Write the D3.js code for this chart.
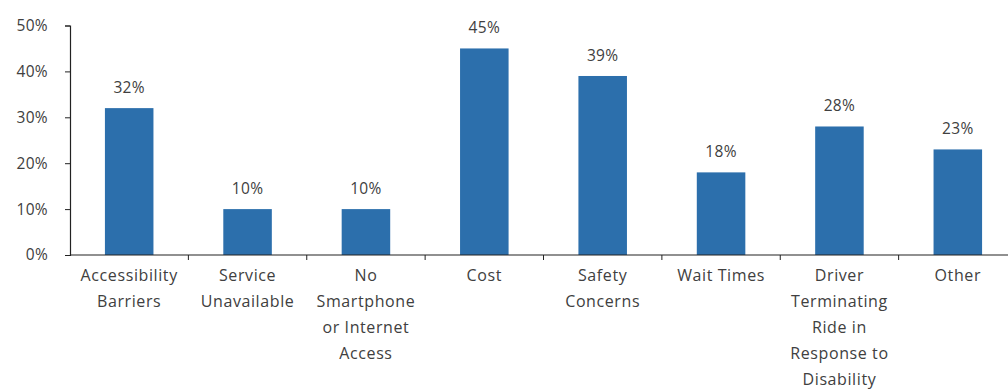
<!DOCTYPE html>
<html>
<head>
<meta charset="utf-8">
<script src="https://cdn.jsdelivr.net/npm/d3@7"></script>
<style>
  html, body { margin: 0; padding: 0; background: #fff; }
  svg { display: block; }
  text { font-family: "Open Sans", Lato, sans-serif; fill: #404040; }
</style>
</head>
<body>
<svg id="chart" width="1008" height="392"></svg>
<script>
// Reasons reported for ride-hailing difficulties (share of respondents)
const categories = [
  ["Accessibility", "Barriers"],
  ["Service", "Unavailable"],
  ["No", "Smartphone", "or Internet", "Access"],
  ["Cost"],
  ["Safety", "Concerns"],
  ["Wait Times"],
  ["Driver", "Terminating", "Ride in", "Response to", "Disability"],
  ["Other"]
];
const values = [32, 10, 10, 45, 39, 18, 28, 23];
const yTicks = [0, 10, 20, 30, 40, 50];

const svg = d3.select("#chart");
const keys = categories.map(c => c.join(" "));
const FONT = "'Open Sans', Lato, sans-serif";

const x = d3.scaleBand().domain(keys).range([70, 1017]).paddingInner(0.59).paddingOuter(0.295);
const xTicks = d3.scaleBand().domain(keys).range([70, 1017]);
const y = d3.scaleLinear().domain([0, 50]).range([255, 25.5]);

// bars
svg.append("g").selectAll("rect").data(values).join("rect")
  .attr("x", (d, i) => x(keys[i]))
  .attr("y", d => y(d))
  .attr("width", x.bandwidth())
  .attr("height", d => y(0) - y(d))
  .attr("fill", "#2c6fac");

// value labels
svg.append("g").selectAll("text").data(values).join("text")
  .attr("x", (d, i) => x(keys[i]) + x.bandwidth() / 2)
  .attr("y", d => y(d) - 15)
  .attr("text-anchor", "middle")
  .attr("font-size", 15.5)
  .attr("letter-spacing", 0.3)
  .text(d => d + "%");

// y axis
const yAxis = svg.append("g").attr("transform", "translate(70,0)")
  .call(d3.axisLeft(y).tickValues(yTicks).tickFormat(d => d + "%").tickSize(5).tickPadding(17));
yAxis.select(".domain").attr("stroke", "#222").attr("stroke-width", 1.2);
yAxis.selectAll(".tick line").attr("stroke", "#222");
yAxis.selectAll(".tick text").attr("font-size", 15.5).attr("fill", "#404040")
  .attr("letter-spacing", 0.3)
  .style("font-family", FONT);

// x axis baseline and tick marks at category boundaries
svg.append("line").attr("x1", 70).attr("x2", 1017).attr("y1", y(0)).attr("y2", y(0))
  .attr("stroke", "#222").attr("stroke-width", 1.2);
svg.append("g").selectAll("line").data(keys.slice(1)).join("line")
  .attr("x1", d => xTicks(d)).attr("x2", d => xTicks(d))
  .attr("y1", y(0)).attr("y2", y(0) + 5)
  .attr("stroke", "#222");

// category labels
const lab = svg.append("g").selectAll("text").data(categories).join("text")
  .attr("x", (d, i) => x(keys[i]) + x.bandwidth() / 2)
  .attr("y", 281)
  .attr("text-anchor", "middle")
  .attr("font-size", 16)
  .attr("letter-spacing", 0.6);
lab.selectAll("tspan").data(d => d).join("tspan")
  .attr("x", function () { return d3.select(this.parentNode).attr("x"); })
  .attr("dy", (d, i) => i === 0 ? 0 : 26.1)
  .text(d => d);
</script>
</body>
</html>
